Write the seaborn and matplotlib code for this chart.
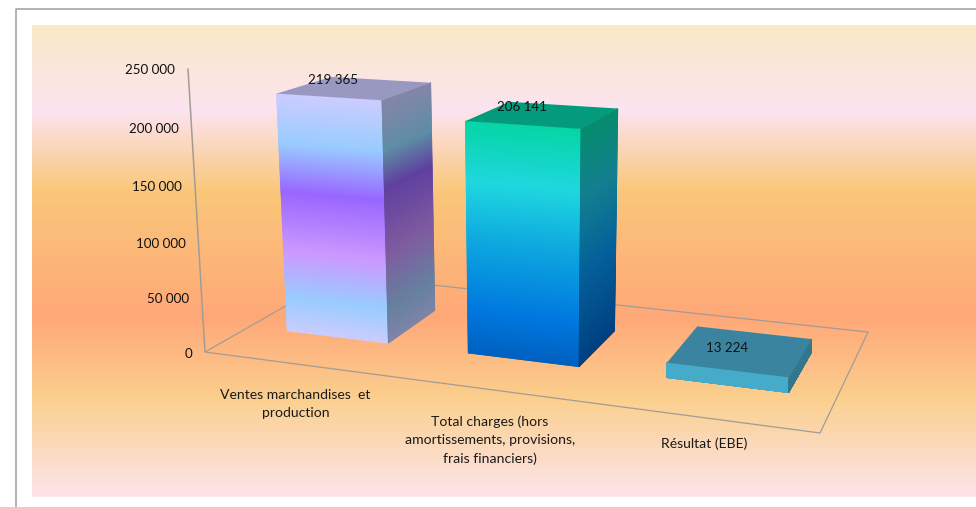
import numpy as np
import matplotlib
matplotlib.use('Agg')
import matplotlib.pyplot as plt
import seaborn as sns
from matplotlib.collections import PolyCollection
from matplotlib.colors import LinearSegmentedColormap
from matplotlib.patches import Polygon
from matplotlib.transforms import Transform

# donnees
categories = ['Ventes marchandises  et\nproduction',
              'Total charges (hors\namortissements, provisions,\nfrais financiers)',
              'Résultat (EBE)']
values = [219365, 206141, 13224]
value_labels = ['219 365', '206 141', '13 224']
y_ticks = [0, 50000, 100000, 150000, 200000, 250000]
y_labels = ['0', '50 000', '100 000', '150 000', '200 000', '250 000']

# couleurs (haut -> bas)
bg_stops = [(0, '#FAE9C8'), (0.18, '#FCE4F0'), (0.35, '#FAC77A'), (0.62, '#FFA878'),
            (0.795, '#FBD08F'), (1, '#FDE4EC')]
front_stops = [
    [(0, '#CCCCFF'), (0.2, '#99CCFF'), (0.4, '#9966FF'), (0.65, '#CC99FF'), (0.85, '#99CCFF'), (1, '#CCCCFF')],
    [(0, '#05D6A6'), (0.25, '#20D8E0'), (0.5, '#0FA8E0'), (0.8, '#0078E0'), (1, '#0060C0')],
    [(0, '#45ABC9'), (1, '#45ABC9')],
]
side_stops = [
    [(0, '#8585A8'), (0.2, '#5E8DA5'), (0.35, '#5F40A0'), (0.62, '#7F5CA0'), (0.85, '#66809F'), (1, '#7E84A8')],
    [(0, '#068C6E'), (0.27, '#138090'), (0.6, '#04609A'), (1, '#003F80')],
    [(0, '#33778F'), (1, '#33778F')],
]
top_colors = ['#9898C0', '#049B7C', '#3A84A0']
label_offsets = [(-22, -8), (-21, -7.5), (-14, -3)]
cat_offsets = [25, 26, 20]

depth_front, depth_back = 0.3, 0.7
bar_width = 0.57
h_max = 250000
n_strips = 300


# perspective du graphique 3D: sol (u, d) + hauteur -> pixels de l'image
def proj(u, d, v):
    a = np.asarray(u, dtype=float) / 3
    k = -0.0491 * np.asarray(v, dtype=float) / h_max
    w = -0.1376 * a + 0.1773 * d + 1
    px = 502.2 * a + 195.3 * d + 205 + k * 534
    py = 21.4 * a - 28.2 * d + 352 + k * 5836
    return px / (w + k), py / (w + k)


class FrontFace(Transform):
    input_dims = 2
    output_dims = 2

    def transform_non_affine(self, xy):
        px, py = proj(xy[:, 0] + 0.5, depth_front, xy[:, 1])
        return np.column_stack([px, py])


def strips(ax, x0, d0, x1, d1, height, stops):
    # face verticale en degrade, en tranches fines
    cmap = LinearSegmentedColormap.from_list('f', stops, N=1024)
    hs = np.linspace(0, height, n_strips + 1)
    polys, cols = [], []
    for i in range(n_strips):
        xa, ya = proj(x0, d0, hs[i])
        xb, yb = proj(x1, d1, hs[i])
        xc, yc = proj(x1, d1, hs[i + 1])
        xd, yd = proj(x0, d0, hs[i + 1])
        polys.append([(xa, ya), (xb, yb), (xc, yc), (xd, yd)])
        cols.append(cmap(1 - (i + 0.5) / n_strips))
    ax.add_collection(PolyCollection(polys, facecolors=cols, edgecolors=cols, linewidths=0.5, zorder=4))


sns.set_theme(style='white')
plt.rcParams['font.family'] = ['Lato', 'DejaVu Sans']

fig = plt.figure(figsize=(9.76, 5.07), dpi=100, facecolor='white')
ax = fig.add_axes([0, 0, 1, 1])

sns.barplot(x=categories, y=values, hue=categories, palette=[s[0][1] for s in front_stops],
            legend=False, width=bar_width, saturation=1, errorbar=None, ax=ax)
bars = list(ax.patches)
for p in bars:
    p.set_transform(FrontFace() + ax.transData)
    p.set_zorder(3)
    p.set_linewidth(0)

# fond
bg = LinearSegmentedColormap.from_list('bg', bg_stops, N=1024)
ax.imshow(np.linspace(0, 1, 472).reshape(-1, 1), cmap=bg, aspect='auto',
          extent=(32, 976, 497, 25), zorder=0)

# sol et axe
u_end = len(categories)
floor = [proj(0, 0, 0), proj(u_end, 0, 0), proj(u_end, 1, 0), proj(0, 1, 0)]
ax.add_patch(Polygon(floor, closed=True, fill=False, edgecolor='#A39C92', linewidth=0.9, zorder=1))
ax_x, ax_y = proj(np.zeros(2), 0, np.array([0, h_max]))
ax.plot(ax_x, ax_y, color='#A39C92', linewidth=1.1, zorder=1)

for tick, lab in zip(y_ticks, y_labels):
    tx, ty = proj(0, 0, tick)
    ax.text(tx - 13, ty + 1.5, lab, ha='right', va='center', fontsize=9.6, color='#111111', zorder=6)

for i, p in enumerate(bars):
    u0 = p.get_x() + 0.5
    u1 = u0 + p.get_width()
    h = p.get_height()
    strips(ax, u0, depth_front, u1, depth_front, h, front_stops[i])
    strips(ax, u1, depth_front, u1, depth_back, h, side_stops[i])
    top = [proj(u0, depth_front, h), proj(u1, depth_front, h),
           proj(u1, depth_back, h), proj(u0, depth_back, h)]
    ax.add_patch(Polygon(top, closed=True, facecolor=top_colors[i], edgecolor='none', zorder=5))

    cx, cy = proj(u0 + p.get_width() / 2, 0.5, h)
    ax.text(cx + label_offsets[i][0], cy + label_offsets[i][1], value_labels[i], ha='center', va='center',
            fontsize=9.6, color='#111111', zorder=6)
    lx, ly = proj(u0 + p.get_width() / 2, 0, 0)
    ax.text(lx, ly + cat_offsets[i], categories[i], ha='center', va='top', fontsize=10.1, color='#1A1A1A',
            linespacing=1.6, zorder=6)

# cadre du graphique (haut et gauche)
ax.plot([16, 16, 976], [507, 8.5, 8.5], color='#A6A6A6', linewidth=1.2, zorder=2)

ax.set_xlim(0, 976)
ax.set_ylim(507, 0)
ax.axis('off')

fig.savefig('out.png', dpi=100)
